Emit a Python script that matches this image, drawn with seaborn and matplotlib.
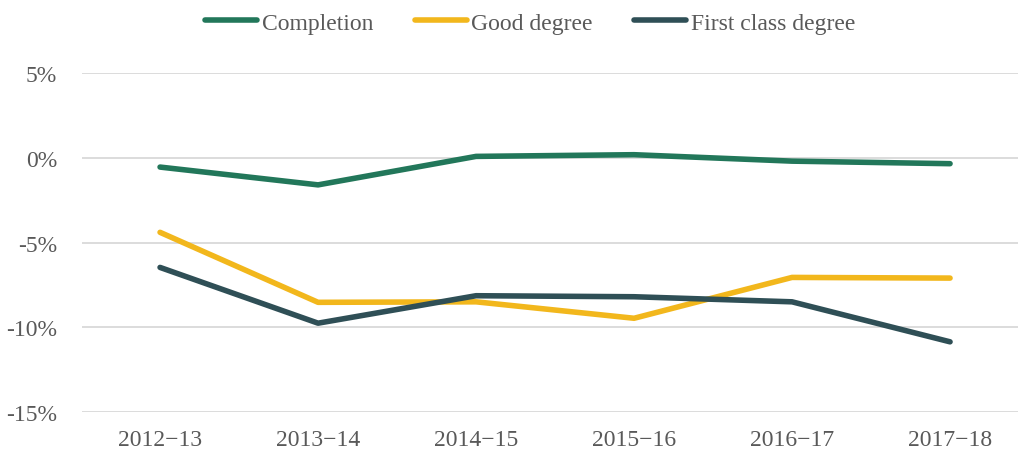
import pandas as pd
import numpy as np
import seaborn as sns
import matplotlib.pyplot as plt

years = ['2012\u221213', '2013\u221214', '2014\u221215', '2015\u221216', '2016\u221217', '2017\u221218']
completion = [-0.55, -1.6, 0.08, 0.18, -0.2, -0.35]
good_degree = [-4.4, -8.53, -8.5, -9.47, -7.06, -7.1]
first_class = [-6.47, -9.76, -8.14, -8.2, -8.5, -10.86]
series_names = ['Completion', 'Good degree', 'First class degree']
colors = ['#22775A', '#F2B71C', '#2F4F56']

# Long-form table for seaborn
df = pd.DataFrame({
    'year': years * 3,
    'value': completion + good_degree + first_class,
    'series': np.repeat(series_names, len(years)),
})

sns.set_theme(style='white')
plt.rcParams['font.family'] = ['Liberation Serif', 'DejaVu Serif']

fig = plt.figure(figsize=(10.18, 4.52), dpi=100)
ax = fig.add_axes([82 / 1018, 1 - 413 / 452, 1 - 82 / 1018, (413 - 74) / 452])

sns.lineplot(data=df, x='year', y='value', hue='series', palette=colors,
             hue_order=series_names, linewidth=4, sort=False, ax=ax,
             solid_capstyle='round')

ax.set_ylim(-15, 5)
ax.set_xlim(-0.494, 5.43)
ax.set_yticks([-15, -10, -5, 0, 5])
ax.set_yticklabels([f'{v}%' for v in [-15, -10, -5, 0, 5]])
ax.grid(axis='y', color='#D9D9D9', linewidth=1.3)
ax.grid(axis='x', visible=False)
for s in ax.spines.values():
    s.set_visible(False)
ax.tick_params(axis='both', length=0, labelsize=17, labelcolor='#595959')
ax.tick_params(axis='x', pad=12)
ax.tick_params(axis='y', pad=18)
ax.set_xlabel('')
ax.set_ylabel('')

handles, labels = ax.get_legend_handles_labels()
leg = ax.legend(handles, labels, loc='center', bbox_to_anchor=(0.479, 1.148),
                ncol=3, frameon=False, fontsize=17, handlelength=2.2,
                handletextpad=0.2, columnspacing=1.75)
for t in leg.get_texts():
    t.set_color('#595959')
for h in leg.get_lines():
    h.set_linewidth(4)
    h.set_solid_capstyle('round')

fig.savefig('out.png', dpi=100)
